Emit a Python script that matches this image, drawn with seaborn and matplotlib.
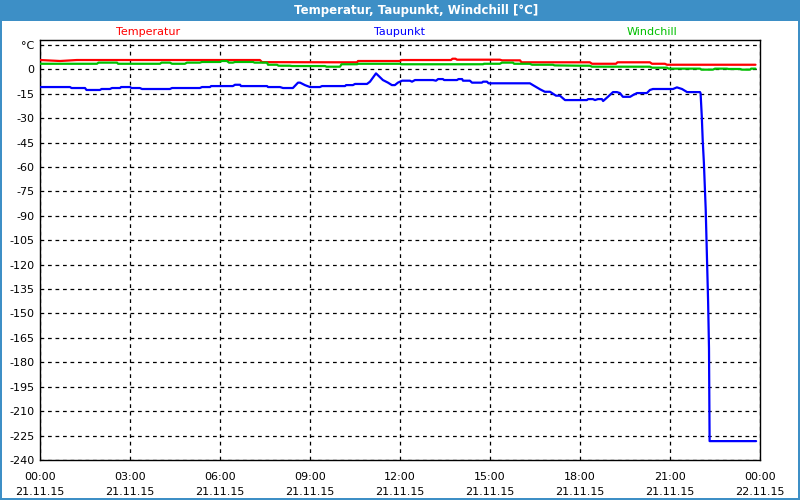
import matplotlib
matplotlib.use("Agg")
import matplotlib.pyplot as plt
import matplotlib.patches as mpatches
import seaborn as sns
import pandas as pd
import numpy as np

# ---------------- data ----------------
temp_hours = [0.0, 0.67, 1.23, 7.33, 7.4, 10.0, 10.57, 10.6, 12.0, 12.05, 13.7, 13.75, 13.85, 13.9,
              15.33, 15.4, 16.0, 16.05, 18.33, 18.4, 19.2, 19.25, 20.33, 20.4, 20.83, 20.9, 23.85]
temp_vals = [5.7, 5.1, 5.7, 5.7, 4.4, 4.3, 4.3, 5.1, 5.1, 5.7, 5.7, 6.5, 6.5, 5.9,
             5.9, 5.5, 5.5, 4.3, 4.3, 3.4, 3.4, 4.3, 4.3, 3.4, 3.4, 2.8, 2.8]

wind_hours = [0.0, 1.9, 1.95, 2.57, 2.6, 4.0, 4.05, 4.33, 4.4, 4.83, 4.9, 5.33, 5.4, 6.0, 6.05,
              6.23, 6.3, 6.43, 6.5, 7.1, 7.15, 7.57, 7.6, 7.9, 7.95, 8.33, 8.4, 9.5, 9.55,
              10.0, 10.05, 10.57, 10.6, 12.0, 12.05, 14.77, 14.8, 15.33, 15.4, 15.77, 15.8,
              16.33, 16.4, 17.1, 17.15, 18.0, 18.33, 18.4, 20.33, 20.4, 20.9, 20.95, 22.0, 22.05,
              22.43, 22.5, 22.9, 22.95, 23.33, 23.4, 23.67, 23.7, 23.85]
wind_vals = [3.4, 3.4, 4.1, 4.1, 3.4, 3.4, 4.1, 4.1, 3.4, 3.4, 4.1, 4.1, 4.5, 4.5, 5.1,
             5.1, 4.1, 4.1, 4.5, 4.5, 4.1, 4.1, 2.8, 2.8, 2.2, 2.2, 2.0, 2.0, 1.6,
             1.6, 3.1, 3.1, 3.4, 3.4, 3.1, 3.1, 3.4, 3.4, 4.1, 4.1, 3.4,
             3.4, 2.8, 2.8, 2.4, 2.2, 2.2, 1.6, 1.6, 1.0, 1.0, 0.4, 0.4, -0.2,
             -0.2, 0.4, 0.4, 0.2, 0.2, -0.2, -0.2, 0.4, 0.4]

dew_hours = [0.0, 1.0, 1.05, 1.5, 1.55, 2.0, 2.05, 2.33, 2.4, 2.67, 2.7, 3.0, 3.05, 3.33, 3.4,
             4.33, 4.4, 5.33, 5.4, 5.67, 5.7, 6.43, 6.5, 6.67, 6.7, 7.57, 7.6, 8.0, 8.1,
             8.43, 8.6, 8.67, 8.83, 9.0, 9.33, 9.4, 10.17, 10.2, 10.43, 10.5, 10.9, 11.0,
             11.2, 11.43, 11.6, 11.73, 11.83, 11.93, 12.07, 12.33, 12.4, 12.5, 13.1, 13.2,
             13.27, 13.43, 13.47, 13.9, 13.95, 14.07, 14.1, 14.33, 14.4, 14.73, 14.77, 14.9,
             14.95, 16.33, 16.43, 16.67, 16.83, 17.0, 17.2, 17.33, 17.5, 18.23, 18.27, 18.43,
             18.5, 18.6, 18.73, 18.77, 18.93, 19.1, 19.23, 19.33, 19.43, 19.67, 19.77, 19.9,
             20.23, 20.33, 20.43, 21.1, 21.23, 21.4, 21.57, 22.0,
             22.02, 22.06, 22.09, 22.13, 22.16, 22.19, 22.23, 22.27, 22.30, 22.31, 22.32, 23.87]
dew_vals = [-10.9, -10.9, -11.5, -11.5, -12.7, -12.7, -12.1, -12.1, -11.5, -11.5, -10.9, -10.9,
            -11.5, -11.5, -12.1, -12.1, -11.5, -11.5, -10.9, -10.9, -10.3, -10.3, -9.5, -9.5,
            -10.3, -10.3, -10.9, -10.9, -11.5, -11.5, -8.2, -8.2, -9.7, -10.9, -10.9, -10.3,
            -10.3, -9.7, -9.7, -9.0, -9.0, -7.6, -2.5, -6.6, -8.2, -9.7, -9.7, -8.2, -7.0,
            -7.0, -7.6, -6.6, -6.6, -7.0, -6.0, -6.0, -6.6, -6.6, -6.0, -6.0, -7.0, -7.0,
            -8.2, -8.2, -7.6, -7.6, -8.6, -8.6, -9.7, -12.3, -13.8, -13.8, -16.2, -16.2,
            -18.9, -18.9, -18.3, -18.3, -18.9, -18.3, -18.3, -19.5, -16.9, -14.0, -14.0,
            -14.6, -16.9, -16.9, -15.8, -14.6, -14.6, -12.7, -12.1, -12.1, -11.1, -12.1,
            -14.0, -14.0,
            -14.8, -29.2, -43.5, -57.6, -71.8, -85.9, -114.2, -142.5, -171.4, -200.3, -228.4, -228.4]

series_names = ["Temperatur", "Taupunkt", "Windchill"]
series_colors = ["#ff0000", "#0000ff", "#00c000"]
title_text = "Temperatur, Taupunkt, Windchill [°C]"
x_tick_hours = [0, 3, 6, 9, 12, 15, 18, 21, 24]
x_tick_labels = ["00:00\n21.11.15", "03:00\n21.11.15", "06:00\n21.11.15", "09:00\n21.11.15",
                 "12:00\n21.11.15", "15:00\n21.11.15", "18:00\n21.11.15", "21:00\n21.11.15",
                 "00:00\n22.11.15"]
y_ticks = list(range(15, -241, -15))
y_tick_labels = ["°C"] + [str(v) for v in y_ticks[1:]]

# ---------------- figure ----------------
sns.set_style("white")
plt.rcParams["font.family"] = ["DejaVu Sans"]

W, H = 800, 500
fig = plt.figure(figsize=(8, 5), dpi=100, facecolor="white")
ax = fig.add_axes([40 / W, 40 / H, 720 / W, 420 / H])
ax.set_facecolor("white")

df = pd.concat([
    pd.DataFrame({"h": temp_hours, "v": temp_vals, "s": "Temperatur"}),
    pd.DataFrame({"h": dew_hours, "v": dew_vals, "s": "Taupunkt"}),
    pd.DataFrame({"h": wind_hours, "v": wind_vals, "s": "Windchill"}),
])
for name, col in zip(series_names, series_colors):
    sub = df[df["s"] == name]
    sns.lineplot(data=sub, x="h", y="v", ax=ax, color=col, lw=1.6,
                 estimator=None, sort=False, legend=False, zorder=3)

ax.set_xlim(0, 24)
ax.set_ylim(-240, 18)
ax.set_xticks(x_tick_hours)
ax.set_xticklabels(x_tick_labels, fontsize=8, linespacing=1.6)
ax.set_xticks(range(0, 25), minor=True)
ax.set_yticks(y_ticks)
ax.set_yticklabels(y_tick_labels, fontsize=8)
ax.set_xlabel("")
ax.set_ylabel("")
ax.tick_params(axis="x", which="both", direction="out", length=3, width=1, color="black",
               pad=6, labelcolor="black")
ax.tick_params(axis="y", length=0, pad=4, labelcolor="black")

ax.grid(True, which="major", color="black", linestyle=(0, (3, 3)), lw=0.9)
for s in ax.spines.values():
    s.set_visible(True)
    s.set_color("black")
    s.set_linewidth(1.0)

# series labels above plot
label_x = [148, 400, 652]
for name, col, xp in zip(series_names, series_colors, label_x):
    fig.text(xp / W, 1 - 32 / H, name, color=col, fontsize=8, ha="center", va="center")

# title bar and border
blue = "#3d8fc6"
fig.patches.append(mpatches.Rectangle((0, 1 - 21 / H), 1, 21 / H, transform=fig.transFigure,
                                      facecolor=blue, edgecolor="none", zorder=0))
fig.patches.append(mpatches.Rectangle((0, 0), 1.5 / W, 1, transform=fig.transFigure,
                                      facecolor=blue, edgecolor="none", zorder=0))
fig.patches.append(mpatches.Rectangle((1 - 2 / W, 0), 2 / W, 1, transform=fig.transFigure,
                                      facecolor=blue, edgecolor="none", zorder=0))
fig.patches.append(mpatches.Rectangle((0, 0), 1, 2 / H, transform=fig.transFigure,
                                      facecolor=blue, edgecolor="none", zorder=0))
fig.text(416 / W, 1 - 10.5 / H, title_text, color="white", fontsize=8.5, fontweight="bold",
         ha="center", va="center")

fig.savefig("out.png", dpi=100, facecolor="white")
